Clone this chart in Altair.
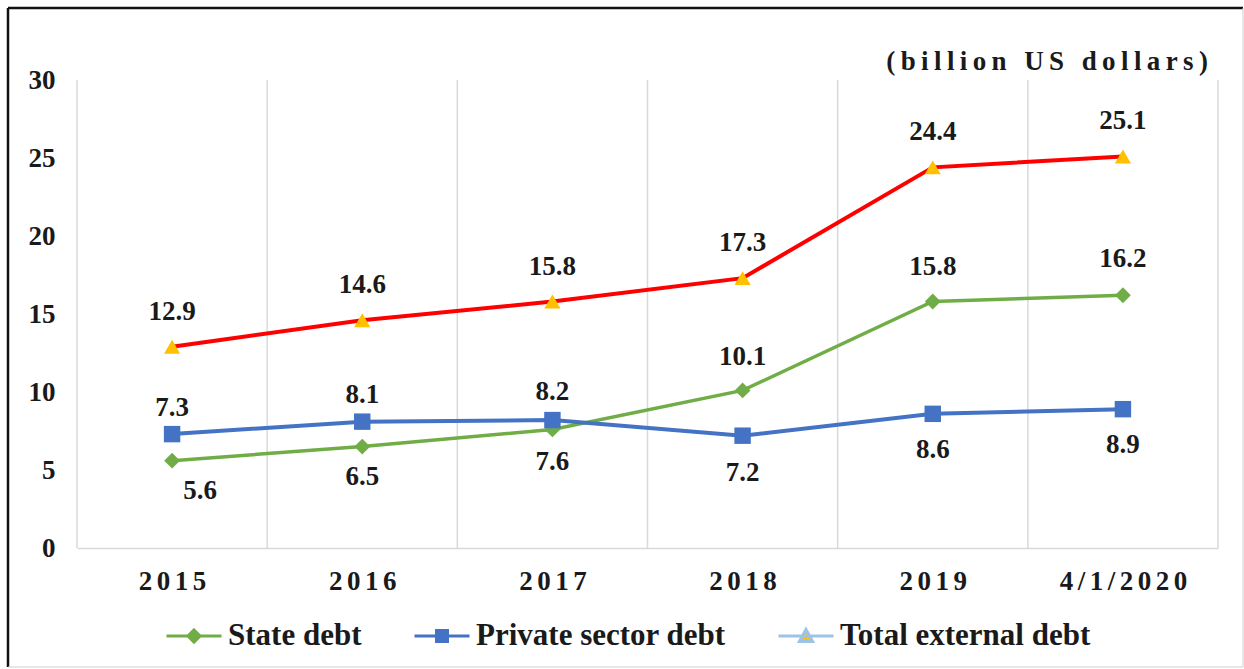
import altair as alt
import pandas as pd

# ---- values ---------------------------------------------------------------
CATEGORIES = ["2015", "2016", "2017", "2018", "2019", "4/1/2020"]
SERIES = ["State debt", "Private sector debt", "Total external debt"]
STATE_DEBT = [5.6, 6.5, 7.6, 10.1, 15.8, 16.2]
PRIVATE_DEBT = [7.3, 8.1, 8.2, 7.2, 8.6, 8.9]
TOTAL_DEBT = [12.9, 14.6, 15.8, 17.3, 24.4, 25.1]
Y_TICKS = [0, 5, 10, 15, 20, 25, 30]
UNIT_TEXT = "(billion US dollars)"

# ---- styling --------------------------------------------------------------
FONT = "Liberation Serif"
INK = "#1a1a1a"
GRID = "#d9d9d9"
LINE_COLOR = {"State debt": "#70AD47", "Private sector debt": "#4472C4",
              "Total external debt": "#FF0000"}
LINE_WIDTH = {"State debt": 3.5, "Private sector debt": 4, "Total external debt": 4}
MARKER = {"State debt": ("diamond", 250, "#70AD47"),
          "Private sector debt": ("square", 270, "#4472C4"),
          "Total external debt": ("triangle-up", 260, "#FFC000")}
LEGEND_FILL = ["#70AD47", "#4472C4", "#FFC000"]
LEGEND_STROKE = ["#70AD47", "#4472C4", "#9DC3E6"]
LEGEND_SYMBOLS = [
    "M-1,0H1M0,-0.22L0.22,0L0,0.22L-0.22,0Z",
    "M-1,0H1M-0.2,-0.2H0.2V0.2H-0.2Z",
    "M-1,0H1M0,-0.24L0.24,0.2H-0.24Z",
]
# pixel nudges of the value labels (dx, dy), per series and category
LABEL_NUDGE = {
    "State debt": [(28, 30), (0, 30), (0, 33), (0, -33), (0, -35), (0, -36)],
    "Private sector debt": [(0, -26), (0, -27), (0, -28), (0, 37), (0, 36), (0, 36)],
    "Total external debt": [(0, -35)] * 6,
}

W, H = 1141, 468
PAD = {"left": 77, "top": 80, "right": 26, "bottom": 121}
Y_MAX = 30
X_MAX = len(CATEGORIES)


def spaced(text, gap):
    return gap.join(list(text))


rows = []
for name, values in zip(SERIES, [STATE_DEBT, PRIVATE_DEBT, TOTAL_DEBT]):
    for i, (cat, v) in enumerate(zip(CATEGORIES, values)):
        dx, dy = LABEL_NUDGE[name][i]
        rows.append({
            "category": cat, "pos": i + 0.5, "series": name, "value": v,
            "label": f"{v:.1f}",
            # label anchor expressed in data units so it goes through the scales
            "label_pos": i + 0.5 + dx * X_MAX / W,
            "label_value": v - dy * Y_MAX / H,
        })
df = pd.DataFrame(rows)

label_array = "[" + ",".join("'" + spaced(c, "\u2006") + "'" for c in CATEGORIES) + "]"

x_scale = alt.Scale(domain=[0, X_MAX], nice=False, zero=False)
y_scale = alt.Scale(domain=[0, Y_MAX], nice=False)

x_axis = alt.Axis(values=[i + 0.5 for i in range(len(CATEGORIES))],
                  labelExpr=label_array + "[round(datum.value - 0.5)]",
                  title=None, grid=False, ticks=False,
                  domainColor=GRID, domainWidth=1.5,
                  labelFont=FONT, labelFontWeight="bold", labelFontSize=27,
                  labelColor=INK, labelPadding=20)
y_axis = alt.Axis(values=Y_TICKS, title=None, grid=False, ticks=False, domain=False,
                  labelFont=FONT, labelFontWeight="bold", labelFontSize=27,
                  labelColor=INK, labelPadding=22)

X = alt.X("pos:Q", scale=x_scale, axis=x_axis)
Y = alt.Y("value:Q", scale=y_scale, axis=y_axis)

base = alt.Chart(df)

# vertical separators at the category boundaries
edges = alt.Chart(pd.DataFrame({"pos": list(range(X_MAX + 1))})).mark_rule(
    color=GRID, strokeWidth=1.5
).encode(x=X, y=alt.value(0), y2=alt.value(H))

layers = [edges]
for name in SERIES:
    part = base.transform_filter(alt.datum.series == name)
    layers.append(part.mark_line(color=LINE_COLOR[name], strokeWidth=LINE_WIDTH[name]).encode(x=X, y=Y))
for name in SERIES:
    shape, size, color = MARKER[name]
    part = base.transform_filter(alt.datum.series == name)
    layers.append(part.mark_point(shape=shape, size=size, filled=True, color=color,
                                  opacity=1).encode(x=X, y=Y))

labels = base.mark_text(font=FONT, fontSize=27, fontWeight="bold", color=INK,
                        align="center", baseline="middle").encode(
    x=alt.X("label_pos:Q", scale=x_scale, axis=x_axis),
    y=alt.Y("label_value:Q", scale=y_scale, axis=y_axis),
    text="label:N",
)
layers.append(labels)

legend = alt.Legend(title=None, orient="none", legendX=88, legendY=527,
                    direction="horizontal", symbolSize=3025, symbolStrokeWidth=3,
                    labelFont=FONT, labelFontSize=31, labelFontWeight="bold",
                    labelColor=INK, labelOffset=5, labelLimit=500,
                    columnPadding=46, padding=0)
legend_layer = alt.Chart(pd.DataFrame({"series": SERIES})).transform_filter("false").mark_point(
    filled=True, opacity=1, strokeWidth=3
).encode(
    shape=alt.Shape("series:N", scale=alt.Scale(domain=SERIES, range=LEGEND_SYMBOLS), legend=legend),
    fill=alt.Fill("series:N", scale=alt.Scale(domain=SERIES, range=LEGEND_FILL), legend=legend),
    stroke=alt.Stroke("series:N", scale=alt.Scale(domain=SERIES, range=LEGEND_STROKE), legend=legend),
)
layers.append(legend_layer)

one = pd.DataFrame({"k": [0]})

# unit note at the top right
unit_note = alt.Chart(one).mark_text(
    font=FONT, fontSize=27, fontWeight="bold", color=INK, align="right", baseline="middle"
).encode(x=alt.value(W - 10), y=alt.value(-18), text=alt.value(spaced(UNIT_TEXT, "\u2009")))
layers.append(unit_note)

# outer frame of the figure
fx0, fx1 = -PAD["left"] + 8, W + PAD["right"] - 1
fy0, fy1 = -PAD["top"] + 8, H + PAD["bottom"] - 2
frame = [
    alt.Chart(one).mark_rule(color="#111111", strokeWidth=2.5).encode(
        x=alt.value(fx0), x2=alt.value(fx1), y=alt.value(fy0)),
    alt.Chart(one).mark_rule(color="#111111", strokeWidth=2.5).encode(
        x=alt.value(fx0), y=alt.value(fy0), y2=alt.value(fy1)),
    alt.Chart(one).mark_rule(color="#cfcfcf", strokeWidth=1).encode(
        x=alt.value(fx1), y=alt.value(fy0), y2=alt.value(fy1)),
    alt.Chart(one).mark_rule(color="#cfcfcf", strokeWidth=1).encode(
        x=alt.value(fx0), x2=alt.value(fx1), y=alt.value(fy1)),
]
layers.extend(frame)

chart = alt.layer(*layers).resolve_scale(
    shape="independent", fill="independent", stroke="independent"
).properties(
    width=W, height=H,
    padding=PAD,
    autosize=alt.AutoSizeParams(type="none"),
    background="white",
).configure_view(stroke=None)

chart.save("out.html", embed_options={"renderer": "svg", "actions": False})
